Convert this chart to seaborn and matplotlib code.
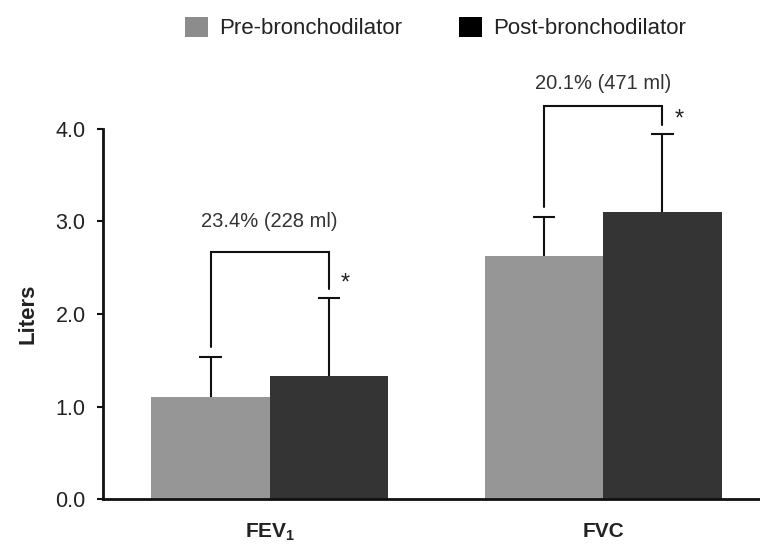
import numpy as np
import pandas as pd
import matplotlib
matplotlib.use("Agg")
import matplotlib.pyplot as plt
from matplotlib.patches import Patch
import seaborn as sns

# Spirometry values (litres): means and standard deviations
tests = ["FEV1", "FVC"]
tick_labels = [r"FEV$_\mathbf{1}$", "FVC"]
conditions = ["Pre-bronchodilator", "Post-bronchodilator"]
pre_mean = [1.10, 2.63]
post_mean = [1.33, 3.10]
pre_sd = [0.44, 0.42]
post_sd = [0.84, 0.84]
change_labels = ["23.4% (228 ml)", "20.1% (471 ml)"]
y_ticks = [0.0, 1.0, 2.0, 3.0, 4.0]

sns.set_theme(style="ticks")
plt.rcParams["font.family"] = ["Liberation Sans", "DejaVu Sans"]
plt.rcParams["mathtext.fontset"] = "custom"
plt.rcParams["mathtext.rm"] = "Liberation Sans"
plt.rcParams["mathtext.bf"] = "Liberation Sans:bold"

bar_colors = ["#969696", "#343434"]
legend_colors = ["#8c8c8c", "#000000"]
text_color = "#222222"
line_color = "#111111"

df = pd.DataFrame({
    "test": tests * 2,
    "condition": [conditions[0]] * 2 + [conditions[1]] * 2,
    "liters": pre_mean + post_mean,
})

fig = plt.figure(figsize=(7.6, 5.5), dpi=100)
ax = fig.add_axes([0.1355, 0.0922, 0.8645, 0.674])

sns.barplot(data=df, x="test", y="liters", hue="condition",
            order=tests, hue_order=conditions, palette=bar_colors,
            width=0.71, errorbar=None, saturation=1, legend=False,
            linewidth=0, ax=ax)

# Bar centres and widths per condition, taken from the drawn patches
centers, widths = [], []
for cont in ax.containers[:2]:
    centers.append([p.get_x() + p.get_width() / 2 for p in cont])
    widths.append([p.get_width() for p in cont])

# Upward-only SD error bars (stem plus top cap)
cap_frac = 0.19
for cx, w, means, sds in zip(centers, widths, [pre_mean, post_mean],
                             [pre_sd, post_sd]):
    tops = np.array(means) + np.array(sds)
    ax.vlines(cx, means, tops, color=line_color, lw=1.5, zorder=3)
    half = np.array(w) * cap_frac / 2
    ax.hlines(tops, np.array(cx) - half, np.array(cx) + half,
              color=line_color, lw=1.5, zorder=3, clip_on=False)

# Brackets with the percentage change and significance marker
bracket_tops = [2.666, 4.24]
left_gap = 0.10
right_gap = 0.10
text_y = [3.0, 4.49]
for i in range(len(tests)):
    x0, x1 = centers[0][i], centers[1][i]
    y_l = pre_mean[i] + pre_sd[i] + left_gap
    y_r = post_mean[i] + post_sd[i] + right_gap
    top = bracket_tops[i]
    ax.plot([x0, x0, x1, x1], [y_l, top, top, y_r], color=line_color,
            lw=1.5, clip_on=False, solid_joinstyle="miter", zorder=3)
    ax.text((x0 + x1) / 2, text_y[i], change_labels[i], ha="center",
            va="center", fontsize=14.5, color="#333333", clip_on=False)
    ax.text(x1 + 0.05, y_r + 0.06, "*", ha="center", va="center",
            fontsize=17, color="#222222", clip_on=False)

ax.set_xlim(-0.5, 1.47)
ax.set_ylim(0, 4.0)
ax.set_yticks(y_ticks)
ax.set_yticklabels([f"{v:.1f}" for v in y_ticks])
ax.set_xticks([0, 1])
ax.set_xticklabels(tick_labels, fontweight="bold", fontsize=15,
                   color=text_color)
ax.set_xlabel("")
ax.set_ylabel("Liters", fontweight="bold", fontsize=16, color=text_color,
              labelpad=12)

ax.tick_params(axis="y", labelsize=15.5, labelcolor=text_color, length=4.5,
               width=1.5, direction="out", pad=8, color=line_color)
ax.tick_params(axis="x", length=0, pad=16)
for side in ["top", "right"]:
    ax.spines[side].set_visible(False)
for side in ["left", "bottom"]:
    ax.spines[side].set_linewidth(2)
    ax.spines[side].set_color(line_color)
ax.set_facecolor("white")

handles = [Patch(facecolor=c, edgecolor="none") for c in legend_colors]
fig.legend(handles, conditions, loc="center", bbox_to_anchor=(0.573, 0.949),
           ncol=2, frameon=False, fontsize=16, handlelength=1.0,
           handleheight=1.0, handletextpad=0.5, columnspacing=2.6,
           labelcolor=text_color)

fig.savefig("out.png", dpi=100, facecolor="white")
